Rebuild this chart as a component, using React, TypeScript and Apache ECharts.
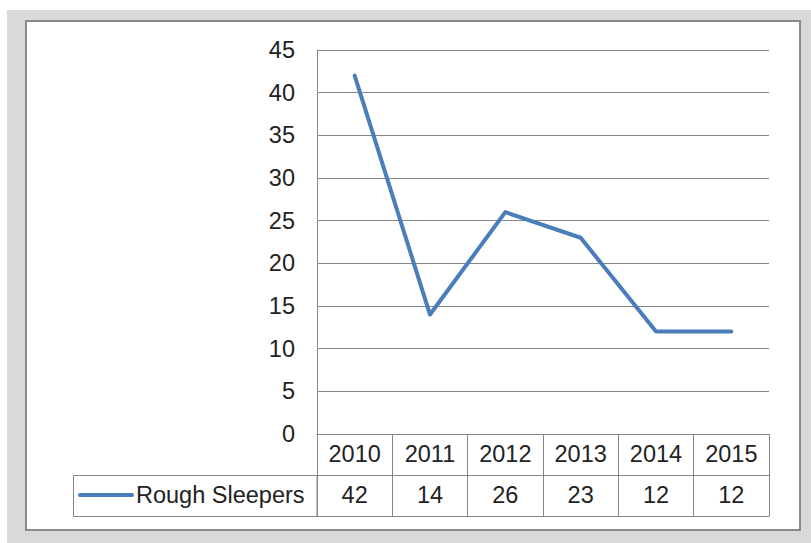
import React, { useEffect, useRef } from "react";
import * as echarts from "echarts";

const categories = ["2010", "2011", "2012", "2013", "2014", "2015"];
const seriesName = "Rough Sleepers";
const values = [42, 14, 26, 23, 12, 12];
const yTicks = { min: 0, max: 45, interval: 5 };

const FONT = "'Liberation Sans', Arial, sans-serif";
const TEXT = "#222222";
const GRID = "#868686";
const LINE = "#4A7EBB";
const FS = 23.5;

export default function App() {
  const ref = useRef<HTMLDivElement>(null);
  useEffect(() => {
    if (!ref.current) return;
    const chart = echarts.init(ref.current, undefined, { renderer: "svg" });
    chart.setOption({
      animation: false,
      backgroundColor: "transparent",
      textStyle: { fontFamily: FONT },
      grid: { left: 317, right: 42, top: 50, bottom: 109, containLabel: false },
      xAxis: [
        {
          type: "category",
          data: categories,
          boundaryGap: true,
          position: "bottom",
          axisLine: { show: true, lineStyle: { color: GRID, width: 1 } },
          axisTick: { show: true, inside: false, length: 41, lineStyle: { color: GRID, width: 1 } },
          axisLabel: { color: TEXT, fontSize: FS, fontFamily: FONT, margin: 8 },
        },
        {
          type: "category",
          data: values.map((v) => String(v)),
          boundaryGap: true,
          position: "bottom",
          offset: 41,
          axisLine: { show: true, lineStyle: { color: GRID, width: 1 } },
          axisTick: { show: true, inside: false, length: 41, lineStyle: { color: GRID, width: 1 } },
          axisLabel: { color: TEXT, fontSize: FS, fontFamily: FONT, margin: 8 },
        },
      ],
      yAxis: {
        type: "value",
        min: yTicks.min,
        max: yTicks.max,
        interval: yTicks.interval,
        axisLine: { show: true, lineStyle: { color: GRID, width: 1 } },
        axisTick: { show: false },
        splitLine: { show: true, lineStyle: { color: GRID, width: 1 } },
        axisLabel: { color: TEXT, fontSize: FS, fontFamily: FONT, margin: 22 },
      },
      series: [
        {
          name: seriesName,
          type: "line",
          xAxisIndex: 0,
          data: values,
          symbol: "none",
          lineStyle: { color: LINE, width: 4, cap: "round", join: "round" },
        },
      ],
      graphic: [
        {
          type: "rect",
          shape: { x: 73.5, y: 475.5, width: 243.5, height: 41 },
          style: { fill: "none", stroke: GRID, lineWidth: 1 },
          silent: true,
        },
        {
          type: "line",
          shape: { x1: 317, y1: 516.5, x2: 769.5, y2: 516.5 },
          style: { stroke: GRID, lineWidth: 1 },
          silent: true,
        },
        {
          type: "line",
          shape: { x1: 80, y1: 495, x2: 132, y2: 495 },
          style: { stroke: LINE, lineWidth: 4, lineCap: "round" },
          silent: true,
        },
        {
          type: "text",
          x: 136,
          y: 495,
          style: {
            text: seriesName,
            fill: TEXT,
            font: `${FS}px ${FONT}`,
            textVerticalAlign: "middle",
            verticalAlign: "middle",
          },
          silent: true,
        },
      ],
    });
    return () => chart.dispose();
  }, []);

  return (
    <div style={{ position: "fixed", left: 0, top: 0, width: 811, height: 543, background: "#ffffff" }}>
      <div style={{ position: "absolute", left: 7, top: 10, width: 804, height: 533, background: "#d9d9d9" }} />
      <div
        style={{
          position: "absolute",
          left: 25,
          top: 20,
          width: 772,
          height: 507,
          background: "#ffffff",
          border: "2px solid #8a8a8a",
        }}
      />
      <div ref={ref} style={{ position: "absolute", left: 0, top: 0, width: 811, height: 543 }} />
    </div>
  );
}
